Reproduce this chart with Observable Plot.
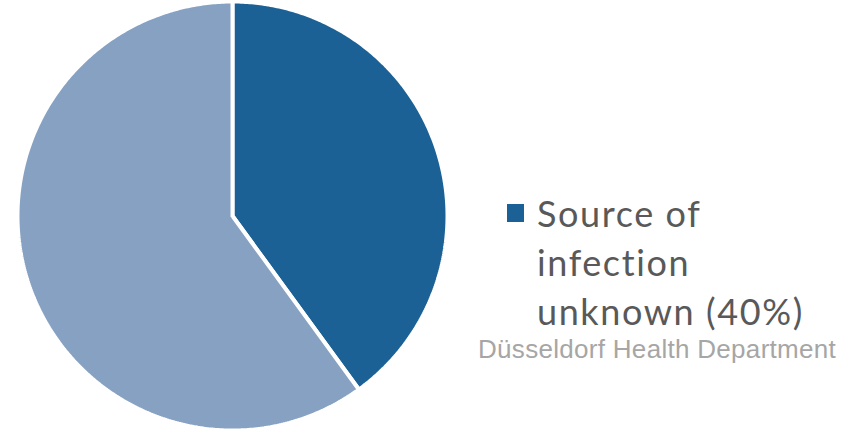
<!DOCTYPE html>
<html>
<head>
<meta charset="utf-8">
<script src="https://cdn.jsdelivr.net/npm/d3@7"></script>
<script src="https://cdn.jsdelivr.net/npm/@observablehq/plot@0.6"></script>
<style>
  html, body { margin: 0; padding: 0; background: #fff; }
  #wrap { position: relative; width: 866px; height: 430px; overflow: hidden; }
  #chart svg { display: block; }
  #legend { position: absolute; left: 507px; top: 189px; font-family: "Lato", "DejaVu Sans", sans-serif; font-size: 36px; line-height: 49px; color: #595959; letter-spacing: 1.6px; }
  #legend .sw { position: absolute; left: 0; top: 15px; width: 17px; height: 18px; }
  #legend .lbl { margin-left: 30px; width: 320px; }
  #caption { position: absolute; left: 478px; top: 334px; font-family: "Liberation Sans", Arial, sans-serif; font-size: 26px; color: #a6a6a6; white-space: nowrap; letter-spacing: 0.3px; }
</style>
</head>
<body>
<div id="wrap">
  <div id="chart"></div>
  <div id="legend"></div>
  <div id="caption"></div>
</div>
<script>
const categories = ["Source of infection unknown", "Other"];
const values = [40, 60];
const colors = ["#1b6195", "#87a1c3"];
const legendLabels = ["Source of infection unknown (40%)"];
const caption = "Düsseldorf Health Department";

// Build slice outlines from the data via d3.pie
const arcs = d3.pie().sort(null).value(d => d.value)(categories.map((c, i) => ({category: c, value: values[i]})));
const pts = [];
for (const a of arcs) {
  const n = Math.max(2, Math.ceil((a.endAngle - a.startAngle) / 0.01));
  pts.push({category: a.data.category, x: 0, y: 0});
  for (let k = 0; k <= n; k++) {
    const t = a.startAngle + (a.endAngle - a.startAngle) * k / n;
    pts.push({category: a.data.category, x: Math.sin(t), y: Math.cos(t)});
  }
  pts.push({category: a.data.category, x: 0, y: 0});
}

const plot = Plot.plot({
  width: 866,
  height: 430,
  marginLeft: 17,
  marginRight: 419,
  marginTop: 1,
  marginBottom: 0,
  x: {domain: [-1, 1], axis: null},
  y: {domain: [-1, 1], axis: null},
  color: {domain: categories, range: colors},
  marks: [
    Plot.line(pts, {x: "x", y: "y", z: "category", fill: "category", stroke: "white", strokeWidth: 4, strokeLinejoin: "miter", curve: "linear"})
  ]
});
document.getElementById("chart").appendChild(plot);

const lg = document.getElementById("legend");
lg.innerHTML = `<div class="sw" style="background:${colors[0]}"></div><div class="lbl">${legendLabels[0].replace("Source of infection", "Source of<br>infection<br>")}</div>`;
document.getElementById("caption").textContent = caption;
</script>
</body>
</html>
